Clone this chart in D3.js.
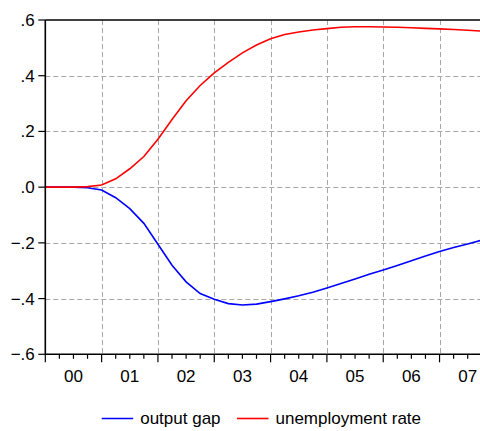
<!DOCTYPE html>
<html>
<head>
<meta charset="utf-8">
<script src="https://cdn.jsdelivr.net/npm/d3@7"></script>
<style>
  body { margin: 0; background: #fff; }
  text { font-family: "Liberation Sans", Arial, sans-serif; fill: #000; }
</style>
</head>
<body>
<div id="chart"></div>
<script>
// quarterly observations, 2000Q1 .. 2007Q4
var quarters = ["2000Q1","2000Q2","2000Q3","2000Q4","2001Q1","2001Q2","2001Q3","2001Q4",
  "2002Q1","2002Q2","2002Q3","2002Q4","2003Q1","2003Q2","2003Q3","2003Q4",
  "2004Q1","2004Q2","2004Q3","2004Q4","2005Q1","2005Q2","2005Q3","2005Q4",
  "2006Q1","2006Q2","2006Q3","2006Q4","2007Q1","2007Q2","2007Q3","2007Q4"];

var outputGap = [0, 0, 0, -0.002, -0.010, -0.038, -0.077, -0.130,
  -0.205, -0.280, -0.340, -0.382, -0.402, -0.418, -0.423, -0.420,
  -0.411, -0.401, -0.390, -0.377, -0.362, -0.346, -0.330, -0.313,
  -0.297, -0.281, -0.264, -0.247, -0.231, -0.217, -0.204, -0.190];

var unemployment = [0, 0, 0, 0.002, 0.008, 0.030, 0.066, 0.110,
  0.172, 0.243, 0.310, 0.365, 0.410, 0.448, 0.482, 0.510,
  0.533, 0.548, 0.557, 0.564, 0.569, 0.574, 0.576, 0.576,
  0.575, 0.574, 0.572, 0.570, 0.568, 0.566, 0.563, 0.560];

var yearLabels = ["00","01","02","03","04","05","06","07"];
var yTicks = [0.6, 0.4, 0.2, 0, -0.2, -0.4, -0.6];

var seriesNames = ["output gap", "unemployment rate"];
var seriesColors = ["#0000ff", "#ff0000"];

// layout
var width = 480;
var height = 431;
var plotLeft = 45.3, plotTop = 20, plotBottom = 354.3;
var qStep = 14.08;
var fontSize = "17px";

var svg = d3.select("#chart").append("svg")
  .attr("width", width)
  .attr("height", height);

var x = d3.scaleLinear()
  .domain([0, quarters.length - 1])
  .range([plotLeft, plotLeft + qStep * (quarters.length - 1)]);

var y = d3.scaleLinear()
  .domain([-0.6, 0.6])
  .range([plotBottom, plotTop]);

var plotRight = x(quarters.length - 1);

// grid
var grid = svg.append("g")
  .attr("stroke", "#a8a8a8")
  .attr("stroke-width", 1)
  .attr("stroke-dasharray", "5,3");

grid.selectAll("line.h")
  .data(yTicks.filter(d => d > -0.6 && d < 0.6))
  .enter().append("line")
  .attr("x1", plotLeft).attr("x2", plotRight)
  .attr("y1", d => Math.round(y(d)) + 0.5)
  .attr("y2", d => Math.round(y(d)) + 0.5);

grid.selectAll("line.v")
  .data(d3.range(1, yearLabels.length))
  .enter().append("line")
  .attr("x1", d => Math.round(x(d * 4)) + 0.5)
  .attr("x2", d => Math.round(x(d * 4)) + 0.5)
  .attr("y1", plotTop).attr("y2", plotBottom);

// series
var line0 = d3.line().x((d, i) => x(i)).y(d => y(d));
[outputGap, unemployment].forEach((vals, k) => {
  svg.append("path")
    .attr("d", line0(vals))
    .attr("fill", "none")
    .attr("stroke", seriesColors[k])
    .attr("stroke-width", 1.6);
});

// frame
var frame = svg.append("g").attr("stroke", "#000").attr("stroke-width", 1.6).attr("fill", "none");
frame.append("line").attr("x1", plotLeft).attr("x2", plotRight).attr("y1", plotTop).attr("y2", plotTop);
frame.append("line").attr("x1", plotLeft).attr("x2", plotRight).attr("y1", plotBottom).attr("y2", plotBottom);
frame.append("line").attr("x1", plotLeft).attr("x2", plotLeft).attr("y1", plotTop).attr("y2", plotBottom);
frame.append("line").attr("x1", plotRight).attr("x2", plotRight).attr("y1", plotTop).attr("y2", plotBottom);

// y axis ticks + labels
var fmt = d => d === 0 ? ".0" : d3.format(".1f")(d).replace("0.", ".");
svg.append("g").selectAll("line")
  .data(yTicks).enter().append("line")
  .attr("x1", plotLeft - 7).attr("x2", plotLeft)
  .attr("y1", d => y(d)).attr("y2", d => y(d))
  .attr("stroke", "#000").attr("stroke-width", 1.2);

svg.append("g").selectAll("text")
  .data(yTicks).enter().append("text")
  .attr("x", plotLeft - 10.5)
  .attr("y", d => y(d))
  .attr("dy", "0.35em")
  .attr("text-anchor", "end")
  .attr("font-size", fontSize)
  .text(fmt);

// x axis ticks
svg.append("g").selectAll("line")
  .data(d3.range(0, quarters.length))
  .enter().append("line")
  .attr("x1", d => x(d)).attr("x2", d => x(d))
  .attr("y1", plotBottom)
  .attr("y2", d => plotBottom + (d % 4 === 0 ? 8 : 4.5))
  .attr("stroke", "#000").attr("stroke-width", 1.2);

svg.append("g").selectAll("text")
  .data(yearLabels).enter().append("text")
  .attr("x", (d, i) => x(i * 4 + 2))
  .attr("y", 381.5)
  .attr("text-anchor", "middle")
  .attr("font-size", fontSize)
  .text(d => d);

// legend
var legendX = [101.7, 237];
var legend = svg.append("g");
seriesNames.forEach((name, k) => {
  legend.append("line")
    .attr("x1", legendX[k]).attr("x2", legendX[k] + 31.5)
    .attr("y1", 418.5).attr("y2", 418.5)
    .attr("stroke", seriesColors[k]).attr("stroke-width", 1.6);
  legend.append("text")
    .attr("x", legendX[k] + 38.5)
    .attr("y", 418.5)
    .attr("dy", "0.35em")
    .attr("font-size", fontSize)
    .text(name);
});
</script>
</body>
</html>
